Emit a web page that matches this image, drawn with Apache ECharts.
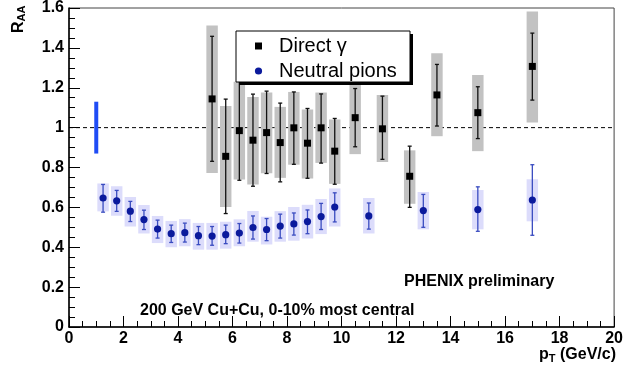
<!DOCTYPE html>
<html>
<head>
<meta charset="utf-8">
<script src="https://cdn.jsdelivr.net/npm/echarts@6/dist/echarts.min.js"></script>
<style>
  html, body { margin: 0; padding: 0; background: #fff; }
  #chart { width: 626px; height: 374px; }
</style>
</head>
<body>
<div id="chart"></div>
<script>
// Direct photon R_AA: value, statistical band, systematic band
const gammaPt     = [5.25, 5.75, 6.25, 6.75, 7.25, 7.75, 8.25, 8.75, 9.25, 9.75, 10.5, 11.5, 12.5, 13.5, 15, 17];
const gammaRaa    = [1.144, 0.856, 0.985, 0.937, 0.975, 0.925, 0.999, 0.922, 0.999, 0.882, 1.050, 0.994, 0.756, 1.164, 1.075, 1.307];
const gammaStatLo = [0.831, 0.569, 0.736, 0.706, 0.770, 0.728, 0.816, 0.746, 0.822, 0.716, 0.904, 0.841, 0.600, 1.008, 0.945, 1.138];
const gammaStatHi = [1.458, 1.143, 1.250, 1.168, 1.183, 1.123, 1.179, 1.096, 1.169, 1.046, 1.196, 1.158, 0.907, 1.317, 1.205, 1.474];
const gammaSysLo  = [0.773, 0.602, 0.740, 0.715, 0.771, 0.748, 0.814, 0.745, 0.823, 0.718, 0.867, 0.827, 0.618, 0.957, 0.882, 1.026];
const gammaSysHi  = [1.512, 1.109, 1.230, 1.154, 1.176, 1.104, 1.179, 1.091, 1.176, 1.041, 1.233, 1.164, 0.886, 1.373, 1.264, 1.582];

// Neutral pion R_AA
const pionPt     = [1.25, 1.75, 2.25, 2.75, 3.25, 3.75, 4.25, 4.75, 5.25, 5.75, 6.25, 6.75, 7.25, 7.75, 8.25, 8.75, 9.25, 9.75, 11, 13, 15, 17];
const pionRaa    = [0.647, 0.633, 0.581, 0.539, 0.491, 0.468, 0.473, 0.458, 0.456, 0.463, 0.471, 0.499, 0.489, 0.506, 0.517, 0.529, 0.554, 0.602, 0.557, 0.584, 0.589, 0.637];
const pionStatLo = [0.576, 0.580, 0.529, 0.489, 0.446, 0.424, 0.426, 0.413, 0.410, 0.418, 0.421, 0.441, 0.433, 0.446, 0.461, 0.468, 0.489, 0.527, 0.491, 0.500, 0.480, 0.460];
const pionStatHi = [0.715, 0.685, 0.630, 0.586, 0.536, 0.511, 0.521, 0.504, 0.504, 0.511, 0.519, 0.557, 0.544, 0.566, 0.572, 0.587, 0.620, 0.673, 0.622, 0.665, 0.703, 0.814];
const pionSysLo  = [0.580, 0.558, 0.504, 0.469, 0.421, 0.400, 0.405, 0.388, 0.388, 0.393, 0.405, 0.428, 0.414, 0.428, 0.433, 0.444, 0.466, 0.504, 0.469, 0.490, 0.490, 0.530];
const pionSysHi  = [0.720, 0.706, 0.652, 0.612, 0.557, 0.532, 0.541, 0.522, 0.522, 0.528, 0.540, 0.582, 0.553, 0.581, 0.602, 0.613, 0.642, 0.695, 0.647, 0.677, 0.687, 0.741];

// Global normalization uncertainty, drawn at pT = 1
const normPt = [1];
const normLo = [0.87];
const normHi = [1.13];

// Unity reference
const refLevel = 1;

// Axis ticks
const xTicks = { min: 0, max: 20, step: 2 };
const yTicks = { min: 0, max: 1.6, step: 0.2 };

const FONT = "'Liberation Sans', Arial, Helvetica, sans-serif";
const BOX_HALF = 0.21;   // half width of the systematic boxes, in GeV/c

function rows(pt, v, sl, sh, yl, yh) {
  return pt.map((x, i) => [x, v[i], sl[i], sh[i], yl[i], yh[i]]);
}

function makeRenderer(boxFill, barColor, marker, markerColor) {
  return function (params, api) {
    const x = api.value(0), y = api.value(1);
    const c = api.coord([x, y]);
    const top = api.coord([x, api.value(3)]);
    const bot = api.coord([x, api.value(2)]);
    const b1 = api.coord([x - BOX_HALF, api.value(5)]);
    const b2 = api.coord([x + BOX_HALF, api.value(4)]);
    const cap = 2;
    const kids = [
      { type: 'rect', shape: { x: b1[0], y: b1[1], width: b2[0] - b1[0], height: b2[1] - b1[1] },
        style: { fill: boxFill } },
      { type: 'line', shape: { x1: c[0], y1: top[1], x2: c[0], y2: bot[1] },
        style: { stroke: barColor, lineWidth: 1.3 } },
      { type: 'line', shape: { x1: c[0] - cap, y1: top[1], x2: c[0] + cap, y2: top[1] },
        style: { stroke: barColor, lineWidth: 1.3 } },
      { type: 'line', shape: { x1: c[0] - cap, y1: bot[1], x2: c[0] + cap, y2: bot[1] },
        style: { stroke: barColor, lineWidth: 1.3 } }
    ];
    if (marker === 'square') {
      kids.push({ type: 'rect', shape: { x: c[0] - 3.5, y: c[1] - 3.5, width: 7, height: 7 },
        style: { fill: markerColor } });
    } else {
      kids.push({ type: 'circle', shape: { cx: c[0], cy: c[1], r: 3.6 },
        style: { fill: markerColor } });
    }
    return { type: 'group', children: kids };
  };
}

function normRenderer(params, api) {
  const x = api.value(0);
  const a = api.coord([x, api.value(2)]);
  const b = api.coord([x, api.value(1)]);
  return { type: 'rect', shape: { x: a[0] - 2, y: a[1], width: 4, height: b[1] - a[1] },
    style: { fill: '#1f4cf5' } };
}

const chart = echarts.init(document.getElementById('chart'), null, { renderer: 'canvas' });

const legendX = 236, legendY = 31, legendW = 174, legendH = 51;

chart.setOption({
  animation: false,
  backgroundColor: '#fff',
  grid: { left: 69, right: 10, top: 5, bottom: 47, show: true, borderColor: '#444', borderWidth: 1, backgroundColor: 'transparent' },
  xAxis: {
    type: 'value', min: xTicks.min, max: xTicks.max, interval: xTicks.step,
    axisLine: { lineStyle: { color: '#000', width: 1.5 } },
    axisTick: { inside: true, length: 11, lineStyle: { color: '#000', width: 1 } },
    minorTick: { show: true, splitNumber: 4, length: 6, lineStyle: { color: '#000', width: 1 } },
    axisLabel: { color: '#000', fontFamily: FONT, fontWeight: 'bold', fontSize: 16, margin: 4 },
    splitLine: { show: false }
  },
  yAxis: {
    type: 'value', min: yTicks.min, max: yTicks.max, interval: yTicks.step,
    axisLine: { lineStyle: { color: '#000', width: 1.5 } },
    axisTick: { inside: true, length: 11, lineStyle: { color: '#000', width: 1 } },
    minorTick: { show: true, splitNumber: 4, length: 6, lineStyle: { color: '#000', width: 1 } },
    axisLabel: { color: '#000', fontFamily: FONT, fontWeight: 'bold', fontSize: 16, margin: 5 },
    splitLine: { show: false }
  },
  series: [
    {
      type: 'line', data: [[xTicks.min, refLevel], [xTicks.max, refLevel]], symbol: 'none',
      lineStyle: { color: '#000', width: 1, type: [4, 3] }, z: 1, silent: true
    },
    {
      type: 'custom', name: 'Direct γ', renderItem: makeRenderer('#c2c2c2', '#111', 'square', '#000'),
      data: rows(gammaPt, gammaRaa, gammaStatLo, gammaStatHi, gammaSysLo, gammaSysHi), z: 3
    },
    {
      type: 'custom', name: 'Neutral pions', renderItem: makeRenderer('#dcdcfb', '#3a4cc0', 'circle', '#0b1a9c'),
      data: rows(pionPt, pionRaa, pionStatLo, pionStatHi, pionSysLo, pionSysHi), z: 3
    },
    {
      type: 'custom', renderItem: normRenderer,
      data: normPt.map((x, i) => [x, normLo[i], normHi[i]]), z: 3
    }
  ],
  graphic: [
    // legend box with drop shadow
    { type: 'rect', z: 100, shape: { x: legendX + 3, y: legendY + 3, width: legendW, height: legendH },
      style: { fill: '#000' } },
    { type: 'rect', z: 101, shape: { x: legendX, y: legendY, width: legendW, height: legendH },
      style: { fill: '#fff', stroke: '#000', lineWidth: 1 } },
    { type: 'rect', z: 102, shape: { x: 255, y: 42.5, width: 7, height: 7 }, style: { fill: '#000' } },
    { type: 'circle', z: 102, shape: { cx: 258.5, cy: 71, r: 3.6 }, style: { fill: '#0b1a9c' } },
    { type: 'text', z: 102, x: 279, y: 46,
      style: { text: 'Direct γ', fontFamily: FONT, fontSize: 20, fill: '#000', verticalAlign: 'middle', align: 'left' } },
    { type: 'text', z: 102, x: 279, y: 71,
      style: { text: 'Neutral pions', fontFamily: FONT, fontSize: 20, fill: '#000', verticalAlign: 'middle', align: 'left' } },
    // annotations
    { type: 'text', z: 102, x: 404, y: 282,
      style: { text: 'PHENIX preliminary', fontFamily: FONT, fontSize: 16, fontWeight: 'bold', fill: '#000', verticalAlign: 'middle' } },
    { type: 'text', z: 102, x: 140, y: 311,
      style: { text: '200 GeV Cu+Cu, 0-10% most central', fontFamily: FONT, fontSize: 16, fontWeight: 'bold', fill: '#000', verticalAlign: 'middle' } },
    // axis titles
    { type: 'text', z: 102, x: 19, y: 33, rotation: Math.PI / 2,
      style: {
        text: '{r|R}{s|AA}', align: 'left', verticalAlign: 'middle',
        rich: {
          r: { fontFamily: FONT, fontSize: 16, fontWeight: 'bold', fill: '#000' },
          s: { fontFamily: FONT, fontSize: 11, fontWeight: 'bold', fill: '#000', verticalAlign: 'bottom', padding: [6, 0, 0, 0] }
        }
      } },
    { type: 'text', z: 102, x: 616, y: 355,
      style: {
        text: '{r|p}{s|T}{r| (GeV/c)}', align: 'right', verticalAlign: 'middle',
        rich: {
          r: { fontFamily: FONT, fontSize: 16, fontWeight: 'bold', fill: '#000' },
          s: { fontFamily: FONT, fontSize: 11, fontWeight: 'bold', fill: '#000', verticalAlign: 'bottom', padding: [8, 0, 0, 0] }
        }
      } }
  ]
});
</script>
</body>
</html>
